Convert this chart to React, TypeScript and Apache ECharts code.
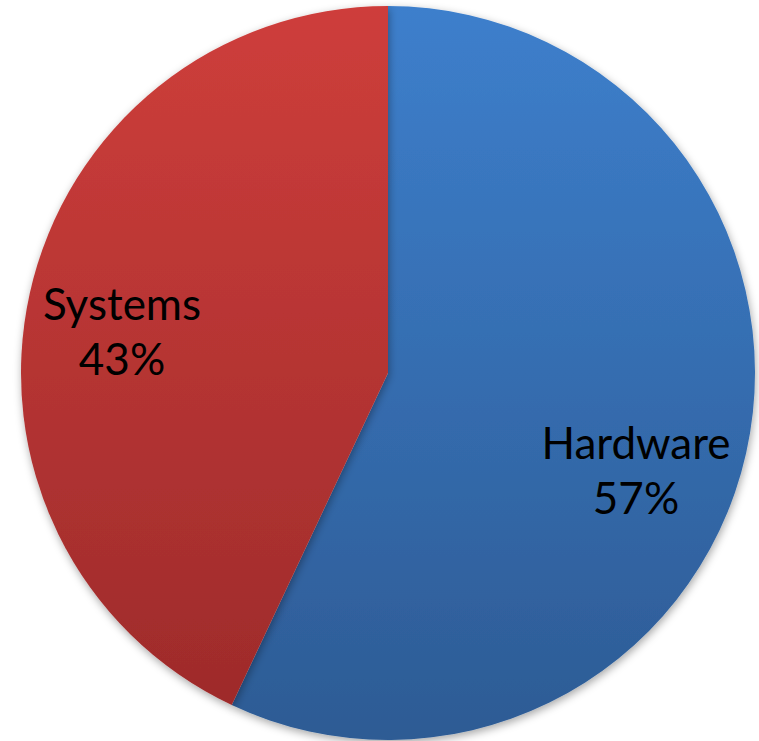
import React, { useEffect, useRef } from "react";
import * as echarts from "echarts";

const categories = ["Hardware", "Systems"];
const values = [57, 43];
const topColors = ["#3D7FCC", "#CE3E3B"];
const bottomColors = ["#2D5B94", "#9E2B2B"];
const labelOffsets: [number, number][] = [
  [66, 56],
  [-84, -2],
];

export default function App() {
  const ref = useRef<HTMLDivElement>(null);
  useEffect(() => {
    document.body.style.margin = "0";
    if (!ref.current) return;
    const chart = echarts.init(ref.current, undefined, { renderer: "svg" });
    chart.setOption({
      animation: false,
      backgroundColor: "#ffffff",
      series: [
        {
          type: "pie",
          center: [388, 373],
          radius: 367,
          startAngle: 90,
          clockwise: true,
          silent: true,
          label: {
            show: true,
            position: "inside",
            formatter: "{b}\n{d}%",
            color: "#000000",
            fontFamily: "Lato, 'Open Sans', sans-serif",
            fontSize: 44,
            lineHeight: 55,
          },
          labelLine: { show: false },
          itemStyle: {
            borderWidth: 0,
            shadowBlur: 8,
            shadowColor: "rgba(0,0,0,0.35)",
            shadowOffsetX: 1,
            shadowOffsetY: 3,
          },
          data: categories.map((name, i) => ({
            name,
            value: values[i],
            label: { offset: labelOffsets[i] },
            itemStyle: {
              color: new echarts.graphic.LinearGradient(0, 0, 0, 1, [
                { offset: 0, color: topColors[i] },
                { offset: 1, color: bottomColors[i] },
              ]),
            },
          })),
        },
      ],
    });
    return () => chart.dispose();
  }, []);
  return <div ref={ref} style={{ width: 759, height: 741 }} />;
}
